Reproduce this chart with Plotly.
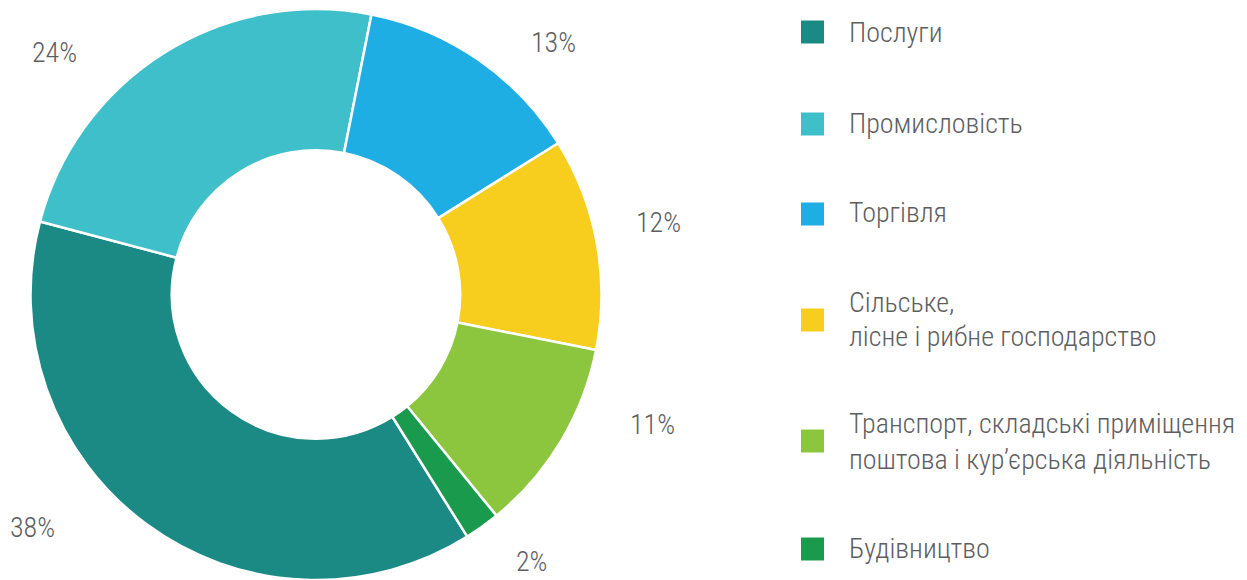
import plotly.graph_objects as go

# ---- data ----
categories = ["Послуги", "Промисловість", "Торгівля",
              "Сільське, лісне і рибне господарство",
              "Транспорт, складські приміщення поштова і кур'єрська діяльність",
              "Будівництво"]
legend_lines = [["Послуги"], ["Промисловість"], ["Торгівля"],
                ["Сільське,", "лісне і рибне господарство"],
                ["Транспорт, складські приміщення", "поштова і кур’єрська діяльність"],
                ["Будівництво"]]
shares = [38, 24, 13, 12, 11, 2]
colors = ["#1b8a85", "#3ebfca", "#1eaee4", "#f7ce1e", "#8cc63f", "#1a9a4c"]

# ---- layout helpers (pixel positions in the reference picture) ----
OFF = 8  # page body margin of the html page
W, H = 1247 - OFF, 580 - OFF
FONT = "Roboto Condensed, Liberation Sans Narrow, DejaVu Sans Condensed, Roboto, sans-serif"
TXT = "#5e5e5e"
label_pos = [(32, 527), (54, 53), (553, 43), (658, 223), (652, 424), (532, 561)]
legend_rows = [[32], [123], [213], [302, 336], [423, 459], [548]]
legend_sq_y = [32, 124, 214, 320, 441, 549]


def px(x):
    return (x - OFF) / W


def py(y):
    return 1 - (y - OFF) / H


fig = go.Figure(go.Pie(
    labels=categories,
    values=shares,
    marker=dict(colors=colors, line=dict(color="white", width=2.5)),
    hole=0.505,
    sort=False,
    direction="clockwise",
    rotation=148,
    textinfo="none",
    hoverinfo="label+percent",
    showlegend=False,
    domain=dict(x=[px(30), px(602)], y=[0, py(9)]),
))

annotations = []
for v, (x, y) in zip(shares, label_pos):
    annotations.append(dict(x=px(x), y=py(y), xref="paper", yref="paper",
                            text=f"{v}%", showarrow=False, xanchor="center", yanchor="middle",
                            font=dict(family=FONT, size=28, color=TXT, weight=300)))

shapes = []
for lines, rows, c, sy in zip(legend_lines, legend_rows, colors, legend_sq_y):
    shapes.append(dict(type="rect", xref="paper", yref="paper",
                       x0=px(801), x1=px(824), y0=py(sy - 11.5), y1=py(sy + 11.5),
                       fillcolor=c, line=dict(width=0)))
    for t, ry in zip(lines, rows):
        annotations.append(dict(x=px(847), y=py(ry), xref="paper", yref="paper",
                                text=t, showarrow=False, xanchor="left", yanchor="middle",
                                font=dict(family=FONT, size=28, color=TXT, weight=300)))

fig.update_layout(
    width=W, height=H,
    margin=dict(l=0, r=0, t=0, b=0),
    paper_bgcolor="white", plot_bgcolor="white",
    annotations=annotations,
    shapes=shapes,
)

fig.write_html("out.html")
